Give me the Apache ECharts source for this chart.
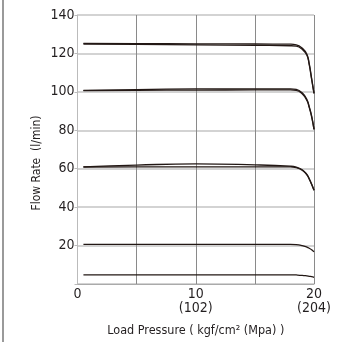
<!DOCTYPE html>
<html><head><meta charset="utf-8">
<script src="https://cdn.jsdelivr.net/npm/echarts@6/dist/echarts.min.js"></script>
<style>html,body{margin:0;padding:0;background:#fff}#c{width:337px;height:342px}</style>
</head><body><div id="c"></div>
<script>
// Load pressure (kgf/cm2) sample points
const pressure = [0.5, 5, 10, 15, 18, 18.5, 19, 19.4, 19.6, 19.8, 20];
// Flow rate curves (l/min); pairs are the two traced lines of each curve
const flow125a = [125.2, 125.1, 125.0, 124.9, 124.8, 124.5, 122.8, 119.6, 114.5, 107.0, 99.2];
const flow125b = [124.9, 124.7, 124.5, 124.2, 124.0, 123.8, 122.2, 119.0, 114.0, 106.5, 99.2];
const flow101a = [100.8, 101.2, 101.5, 101.6, 101.6, 101.3, 99.5, 96.0, 92.2, 87.5, 80.5];
const flow101b = [100.6, 100.8, 100.9, 101.0, 101.0, 100.8, 99.0, 95.5, 91.8, 87.0, 80.5];
const flow61a  = [61.0, 61.9, 62.5, 62.0, 61.3, 60.8, 59.5, 57.0, 54.8, 52.0, 48.8];
const flow61b  = [60.9, 61.0, 61.0, 61.0, 61.0, 60.6, 59.2, 56.8, 54.5, 51.8, 48.8];
const flow21   = [20.6, 20.6, 20.6, 20.6, 20.6, 20.5, 20.0, 19.2, 18.6, 17.8, 16.7];
const flow5    = [4.8, 4.8, 4.8, 4.8, 4.8, 4.7, 4.5, 4.2, 4.0, 3.8, 3.5];
// Tick labels
const xTickLabels = {0: '0', 10: '10\n(102)', 20: '20\n(204)'};
const xName = 'Load Pressure ( kgf/cm² (Mpa) )';
const yName = 'Flow Rate  (l/min)';

const curves = [flow125a, flow125b, flow101a, flow101b, flow61a, flow61b, flow21, flow5];
const FONT = 'DejaVu Sans Condensed';
const chart = echarts.init(document.getElementById('c'));
chart.setOption({
  animation: false,
  grid: {left: 77.5, right: 23, top: 15, bottom: 52.5},
  xAxis: {
    type: 'value', min: 0, max: 20, interval: 5,
    axisLine: {show: true, lineStyle: {color: '#aaaaaa', width: 1}},
    axisTick: {show: false},
    splitLine: {show: true, lineStyle: {color: '#8a8a8a', width: 1}},
    axisLabel: {
      formatter: v => xTickLabels[v] !== undefined ? xTickLabels[v] : '',
      color: '#231f20', fontFamily: FONT, fontSize: 14, lineHeight: 14, margin: 3,
      showMinLabel: true, showMaxLabel: true
    },
    name: xName, nameLocation: 'middle', nameGap: 40,
    nameTextStyle: {color: '#231f20', fontFamily: FONT, fontSize: 12.5}
  },
  yAxis: {
    type: 'value', min: 0, max: 140, interval: 20,
    axisLine: {show: true, lineStyle: {color: '#bbbbbb', width: 1}},
    axisTick: {show: true, length: 3, lineStyle: {color: '#bbbbbb'}},
    splitLine: {show: true, lineStyle: {color: '#c4c4c4', width: 1.5}},
    axisLabel: {
      formatter: v => (v === 0 ? '' : String(v)),
      color: '#231f20', fontFamily: FONT, fontSize: 14, margin: 3
    }
  },
  graphic: [
    {type: 'rect', left: 2, top: 0, shape: {width: 2, height: 342}, style: {fill: '#9a9a9a'}},
    {type: 'text', x: 37, y: 163, rotation: Math.PI / 2,
     style: {text: yName, fill: '#231f20', font: '12px "' + FONT + '"', align: 'center', verticalAlign: 'middle'}}
  ],
  series: curves.map(arr => ({
    type: 'line', showSymbol: false, smooth: 0.5,
    lineStyle: {color: '#231815', width: 1.3},
    data: pressure.map((p, i) => [p, arr[i]])
  }))
});
</script></body></html>
